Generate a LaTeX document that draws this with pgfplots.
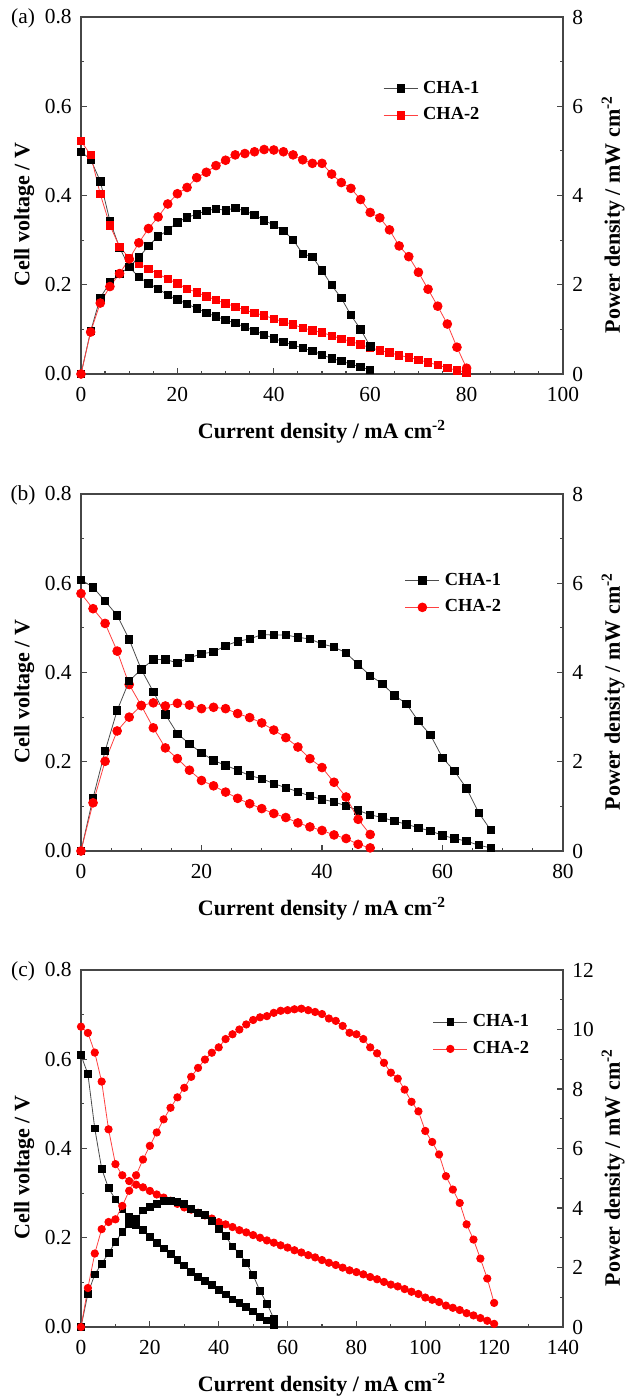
\documentclass[border=0pt]{standalone}
\usepackage{fontspec}
\setmainfont{Liberation Serif}
\usepackage{pgfplots}
\pgfplotsset{compat=1.18}
\definecolor{axisgray}{RGB}{70,70,70}
\pgfplotsset{
  base/.style={
    scale only axis, width=241pt, height=178.5pt, anchor=north west,
    /pgf/number format/assume math mode=true,
    tick align=inside,
    major tick length=3pt, minor tick length=1.6pt,
    every tick/.style={axisgray, line width=0.6pt},
    axis line style={axisgray, line width=0.8pt},
    tick label style={font=\fontsize{10.7}{12}\selectfont},
    label style={font=\fontsize{11}{13}\selectfont\bfseries},
    xticklabel style={inner xsep=0pt, inner ysep=6.3pt},
    yticklabel style={inner xsep=4.5pt, inner ysep=0pt},
    ymin=0,
  },
  leftax/.style={base, ymax=0.8, ytick={0,0.2,0.4,0.6,0.8}, minor y tick num=1,
    xtick pos=left, ytick pos=left,
    xlabel={Current density / mA cm\textsuperscript{-2}},
    ylabel={Cell voltage / V},
    xlabel style={at={(axis description cs:0.5,-0.1625)}, anchor=center},
    ylabel style={at={(axis description cs:-0.118,0.447)}, anchor=center},
    yticklabel style={/pgf/number format/.cd, fixed, fixed zerofill, precision=1},
    legend style={draw=none, fill=none, inner sep=0pt, outer sep=0pt, anchor=west,
      nodes={inner sep=0.5pt}, row sep=4.8pt, column sep=2pt,
      font=\fontsize{9.2}{10}\selectfont\bfseries},
    legend cell align=left,
  },
  rightax/.style={base, axis x line=none, axis y line*=right, minor y tick num=1,
    ylabel={Power density / mW cm\textsuperscript{-2}},
    ylabel style={at={(axis description cs:1.104,0.447)}, anchor=center},
  },
  cha1/.style={color=black!70, line width=0.4pt, mark=square*, mark size=1.85pt,
    mark options={solid, fill=black, draw=black}},
  cha2sq/.style={color=red!75, line width=0.4pt, mark=square*, mark size=1.85pt,
    mark options={solid, fill=red, draw=red}},
  cha2c/.style={color=red!75, line width=0.4pt, mark=*, mark size=2.2pt,
    mark options={solid, fill=red, draw=red}},
}

\pgfplotstableread{
x y
0 0.498
2 0.481
4 0.432
6 0.343
8 0.283
10 0.240
12 0.217
14 0.203
16 0.191
18 0.177
20 0.167
22 0.157
24 0.147
26 0.137
28 0.129
30 0.121
32 0.114
34 0.105
36 0.097
38 0.088
40 0.080
42 0.072
44 0.065
46 0.058
48 0.052
50 0.043
52 0.035
54 0.029
56 0.022
58 0.016
60 0.009
}\aVone
\pgfplotstableread{
x y
0 0
2 0.96
4 1.71
6 2.05
8 2.24
10 2.40
12 2.61
14 2.87
16 3.08
18 3.22
20 3.40
22 3.51
24 3.58
26 3.66
28 3.70
30 3.67
32 3.72
34 3.65
36 3.57
38 3.44
40 3.34
42 3.21
44 3.01
46 2.69
48 2.63
50 2.32
52 1.99
54 1.70
56 1.32
58 1.00
60 0.62
}\aPone
\pgfplotstableread{
x y
0 0.522
2 0.491
4 0.403
6 0.333
8 0.285
10 0.260
12 0.247
14 0.236
16 0.224
18 0.213
20 0.203
22 0.191
24 0.183
26 0.174
28 0.166
30 0.158
32 0.151
34 0.143
36 0.137
38 0.131
40 0.124
42 0.117
44 0.111
46 0.103
48 0.098
50 0.093
52 0.086
54 0.079
56 0.073
58 0.066
60 0.059
62 0.053
64 0.048
66 0.042
68 0.037
70 0.032
72 0.026
74 0.020
76 0.014
78 0.008
80 0.004
}\aVtwo
\pgfplotstableread{
x y
0 0
2 0.94
4 1.59
6 1.96
8 2.25
10 2.58
12 2.94
14 3.26
16 3.52
18 3.81
20 4.04
22 4.18
24 4.40
26 4.52
28 4.67
30 4.79
32 4.91
34 4.94
36 4.98
38 5.03
40 5.02
42 4.98
44 4.91
46 4.80
48 4.72
50 4.72
52 4.48
54 4.29
56 4.16
58 3.91
60 3.62
62 3.50
64 3.23
66 2.87
68 2.63
70 2.28
72 1.90
74 1.52
76 1.12
78 0.60
80 0.13
}\aPtwo

\pgfplotstableread{
x y
0 0.608
2 0.591
4 0.560
6 0.528
8 0.474
10 0.407
12 0.357
14 0.306
16 0.263
18 0.240
20 0.220
22 0.203
24 0.192
26 0.181
28 0.169
30 0.162
32 0.151
34 0.142
36 0.133
38 0.123
40 0.116
42 0.110
44 0.101
46 0.091
48 0.081
50 0.075
52 0.067
54 0.060
56 0.052
58 0.045
60 0.035
62 0.028
64 0.022
66 0.013
68 0.007
}\bVone
\pgfplotstableread{
x y
0 0
2 1.19
4 2.24
6 3.15
8 3.81
10 4.07
12 4.29
14 4.29
16 4.22
18 4.33
20 4.42
22 4.46
24 4.60
26 4.70
28 4.75
30 4.85
32 4.84
34 4.84
36 4.79
38 4.75
40 4.64
42 4.57
44 4.44
46 4.18
48 3.93
50 3.75
52 3.49
54 3.30
56 2.91
58 2.60
60 2.09
62 1.79
64 1.40
66 0.86
68 0.47
}\bPone
\pgfplotstableread{
x y
0 0.577
2 0.543
4 0.510
6 0.448
8 0.373
10 0.326
12 0.276
14 0.231
16 0.207
18 0.181
20 0.158
22 0.146
24 0.132
26 0.118
28 0.106
30 0.095
32 0.084
34 0.075
36 0.063
38 0.054
40 0.046
42 0.036
44 0.028
46 0.015
48 0.007
}\bVtwo
\pgfplotstableread{
x y
0 0
2 1.08
4 2.01
6 2.69
8 3.00
10 3.26
12 3.32
14 3.25
16 3.31
18 3.27
20 3.19
22 3.22
24 3.19
26 3.08
28 2.99
30 2.87
32 2.71
34 2.54
36 2.33
38 2.07
40 1.87
42 1.54
44 1.21
46 0.71
48 0.37
}\bPtwo

\pgfplotstableread{
x y
0 0.609
2 0.567
4 0.445
6 0.355
8 0.311
10 0.286
12 0.265
14 0.246
16 0.228
18 0.217
20 0.202
22 0.189
24 0.176
26 0.163
28 0.150
30 0.138
32 0.124
34 0.113
36 0.104
38 0.094
40 0.083
42 0.073
44 0.062
46 0.054
48 0.045
50 0.035
52 0.023
54 0.015
56 0.005
}\cVone
\pgfplotstableread{
x y
0 0
2 1.12
4 1.77
6 2.13
8 2.48
10 2.86
12 3.19
14 3.45
16 3.64
18 3.92
20 4.04
22 4.15
24 4.23
26 4.23
28 4.20
30 4.13
32 3.98
34 3.84
36 3.76
38 3.56
40 3.31
42 3.05
44 2.71
46 2.47
48 2.15
50 1.74
52 1.21
54 0.79
56 0.28
}\cPone
\pgfplotstableread{
x y
0 0.673
2 0.659
4 0.615
6 0.550
8 0.443
10 0.365
12 0.340
14 0.327
16 0.319
18 0.313
20 0.305
22 0.297
24 0.290
26 0.283
28 0.276
30 0.268
32 0.263
34 0.256
36 0.250
38 0.243
40 0.235
42 0.230
44 0.224
46 0.217
48 0.212
50 0.206
52 0.200
54 0.194
56 0.189
58 0.183
60 0.178
62 0.172
64 0.167
66 0.161
68 0.156
70 0.150
72 0.144
74 0.139
76 0.133
78 0.127
80 0.123
82 0.118
84 0.112
86 0.107
88 0.101
90 0.095
92 0.091
94 0.085
96 0.079
98 0.074
100 0.066
102 0.061
104 0.056
106 0.048
108 0.043
110 0.038
112 0.031
114 0.026
116 0.020
118 0.014
120 0.007
}\cVtwo
\pgfplotstableread{
x y
0 0
2 1.31
4 2.47
6 3.29
8 3.53
10 3.62
12 4.07
14 4.58
16 5.10
18 5.63
20 6.09
22 6.54
24 6.98
26 7.37
28 7.72
30 8.04
32 8.41
34 8.71
36 8.99
38 9.22
40 9.40
42 9.68
44 9.84
46 10.00
48 10.17
50 10.32
52 10.41
54 10.45
56 10.56
58 10.63
60 10.65
62 10.68
64 10.70
66 10.65
68 10.59
70 10.52
72 10.37
74 10.29
76 10.12
78 9.89
80 9.84
82 9.68
84 9.40
86 9.20
88 8.88
90 8.55
92 8.35
94 7.98
96 7.57
98 7.25
100 6.59
102 6.22
104 5.80
106 5.07
108 4.62
110 4.17
112 3.45
114 2.94
116 2.30
118 1.63
120 0.81
}\cPtwo

\begin{document}
\begin{tikzpicture}
\useasboundingbox (0,0) rectangle (318.5pt,-699.5pt);
% ---------------- (a)
\begin{axis}[leftax, at={(40.5pt,-8.5pt)}, xmin=0, xmax=100, xtick={0,20,...,100},
  minor x tick num=3, legend style={at={(axis description cs:0.627,0.762)}}]
\addplot[cha1] table {\aVone};
\addplot[cha2sq] table {\aVtwo};
\legend{CHA-1,CHA-2}
\end{axis}
\begin{axis}[rightax, at={(40.5pt,-8.5pt)}, xmin=0, xmax=100, ymax=8, ytick={0,2,4,6,8}]
\addplot[cha1] table {\aPone};
\addplot[cha2c] table {\aPtwo};
\end{axis}
\node[font=\fontsize{10.7}{12}\selectfont] at (11.5pt,-9pt) {(a)};
% ---------------- (b)
\begin{axis}[leftax, at={(40.5pt,-247pt)}, xmin=0, xmax=80, xtick={0,20,...,80},
  minor x tick num=3, legend style={at={(axis description cs:0.672,0.720)}}]
\addplot[cha1] table {\bVone};
\addplot[cha2c] table {\bVtwo};
\legend{CHA-1,CHA-2}
\end{axis}
\begin{axis}[rightax, at={(40.5pt,-247pt)}, xmin=0, xmax=80, ymax=8, ytick={0,2,4,6,8}]
\addplot[cha1] table {\bPone};
\addplot[cha2c] table {\bPtwo};
\end{axis}
\node[font=\fontsize{10.7}{12}\selectfont] at (11.5pt,-247.5pt) {(b)};
% ---------------- (c)
\begin{axis}[leftax, at={(40.5pt,-485pt)}, xmin=0, xmax=140, xtick={0,20,...,140},
  minor x tick num=1, legend style={at={(axis description cs:0.730,0.8165)}},
  every axis plot/.append style={mark size=1.75pt}]
\addplot[cha1, mark size=1.7pt] table {\cVone};
\addplot[cha2c, mark size=1.85pt] table {\cVtwo};
\legend{CHA-1,CHA-2}
\end{axis}
\begin{axis}[rightax, at={(40.5pt,-485pt)}, xmin=0, xmax=140, ymax=12, ytick={0,2,...,12}]
\addplot[cha1, mark size=1.7pt] table {\cPone};
\addplot[cha2c, mark size=1.85pt] table {\cPtwo};
\end{axis}
\node[font=\fontsize{10.7}{12}\selectfont] at (11.5pt,-485.5pt) {(c)};
\end{tikzpicture}
\end{document}
